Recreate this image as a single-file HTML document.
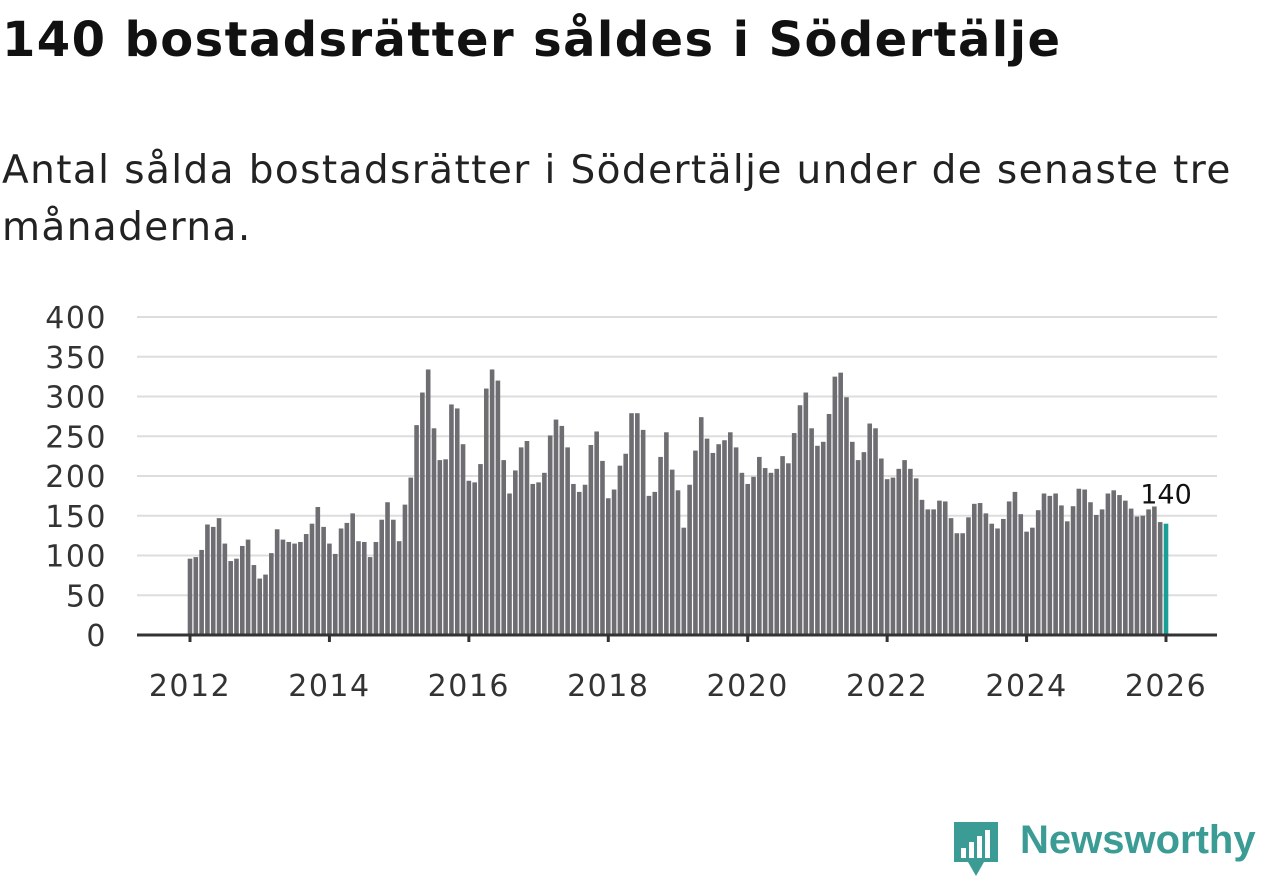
<!DOCTYPE html>
<html><head><meta charset="utf-8"><style>
body{margin:0;background:#fff;width:1262px;height:879px;overflow:hidden;font-family:"DejaVu Sans",sans-serif;}
h1{position:absolute;left:2px;top:12px;margin:0;font-size:48px;letter-spacing:1.4px;font-weight:bold;color:#111;white-space:nowrap;}
.sub{position:absolute;left:2px;top:142px;margin:0;font-size:39px;letter-spacing:1.4px;line-height:57px;color:#222;width:1262px;white-space:nowrap;}
</style></head><body>
<h1>140 bostadsrätter såldes i Södertälje</h1>
<p class="sub">Antal sålda bostadsrätter i Södertälje under de senaste tre<br>månaderna.</p>
<svg id="chart" width="1262" height="879" style="position:absolute;left:0;top:0"></svg>
<div style="position:absolute;left:952px;top:820px;">
<svg width="48" height="58"><path d="M2 2h44v40H32l-8 14-8-14H2z" fill="#3a9c94"/><rect x="9" y="28" width="5" height="10" fill="#fff"/><rect x="17" y="22" width="5" height="16" fill="#fff"/><rect x="25" y="16" width="5" height="22" fill="#fff"/><rect x="33" y="10" width="5" height="28" fill="#fff"/></svg>
<span style="position:absolute;left:68px;top:-2px;font-size:40px;color:#3a9c94;font-weight:bold;font-family:'Liberation Sans',sans-serif;white-space:nowrap;">Newsworthy</span></div>
<script>
const values=[96,98,107,139,136,147,115,93,96,112,120,88,
71,76,103,133,120,117,115,117,127,140,161,136,
115,102,134,141,153,118,117,98,117,145,167,145,
118,164,198,264,305,334,260,220,221,290,285,240,
194,192,215,310,334,320,220,178,207,236,244,190,
192,204,251,271,263,236,190,180,189,239,256,219,
172,183,213,228,279,279,258,175,180,224,255,208,
182,135,189,232,274,247,229,240,245,255,236,204,
190,199,224,210,204,209,225,216,254,289,305,260,
238,243,278,325,330,299,243,220,230,266,260,222,
196,198,209,220,209,197,170,158,158,169,168,147,
128,128,148,165,166,153,140,134,146,168,180,152,
130,135,157,178,175,178,163,143,162,184,183,167,
151,158,178,182,176,169,159,149,150,158,165,142,
140];
const yTicks=[0,50,100,150,200,250,300,350,400];
const xTicks=[2012,2014,2016,2018,2020,2022,2024,2026];
const startYear=2012;
const svg=document.getElementById('chart');const NS='http://www.w3.org/2000/svg';
const y=v=>635-v*318/400;
const x=i=>190+i*(976/168);
function mk(t,a){const e=document.createElementNS(NS,t);for(const k in a)e.setAttribute(k,a[k]);svg.appendChild(e);return e;}
yTicks.forEach(t=>{
 const l=mk('line',{x1:137,x2:1217,y1:y(t),y2:y(t),stroke:'#ddd','stroke-width':2});
 
 
 const tx=mk('text',{x:107,y:y(t)+11,'text-anchor':'end','font-size':30,'letter-spacing':1.5,fill:'#333','font-family':'DejaVu Sans, sans-serif'});
 tx.textContent=t;
 
 
});
values.forEach((v,i)=>{
 const r=mk('rect',{x:x(i)-2.3,y:y(v),width:4.6,height:635-y(v),fill:i===values.length-1?'#1a9e96':'#6e6d72'});
 
 
});
const ax=mk('line',{x1:137,x2:1217,y1:635,y2:635,stroke:'#333','stroke-width':3});


xTicks.forEach(t=>{
 const px=x((t-startYear)*12);
 const tk=mk('line',{x1:px,x2:px,y1:635,y2:642,stroke:'#333','stroke-width':3});
 
 
 const tx=mk('text',{x:px,y:696,'text-anchor':'middle','font-size':30,'letter-spacing':1.5,fill:'#333','font-family':'DejaVu Sans, sans-serif'});
 tx.textContent=t;
 
 
});
const last=values.length-1;
const lb=mk('text',{x:x(last),y:y(values[last])-20,'text-anchor':'middle','font-size':27,fill:'#111',stroke:'#fff','stroke-width':6,'paint-order':'stroke','font-family':'DejaVu Sans, sans-serif'});
lb.textContent=values[last];


</script>
</body></html>
